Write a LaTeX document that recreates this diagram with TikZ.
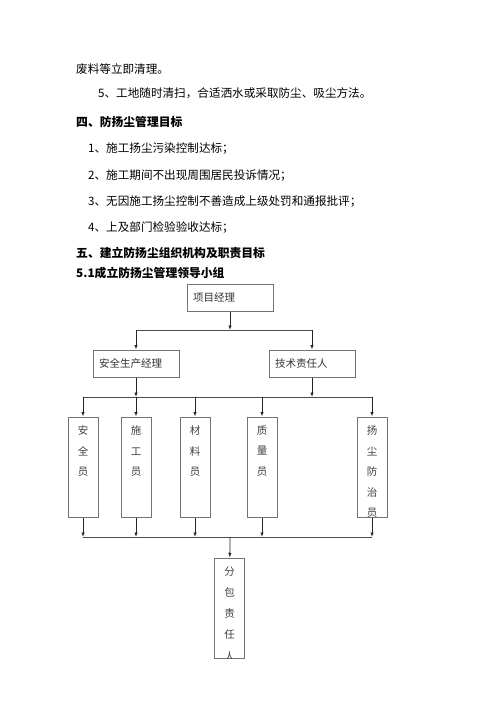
\documentclass[tikz,border=0pt]{standalone}
\usepackage{fontspec}
\newfontfamily\cjk{Noto Sans CJK SC}
\usetikzlibrary{arrows.meta,positioning}
\tikzset{
	para/.style={anchor=west, inner sep=0pt, font=\cjk\fontsize{11.6}{13}\selectfont},
	head/.style={para, font=\cjk\bfseries\fontsize{11.8}{13}\selectfont},
	hbox/.style={draw=black!55, line width=1pt, text width=74pt, inner xsep=6pt, inner ysep=0pt, minimum height=27pt, align=left, font=\cjk\fontsize{10.5}{13}\selectfont, text=black!80},
	vbox/.style={draw=black!55, line width=1pt, minimum width=30pt, minimum height=100pt, inner sep=0pt},
	vtext/.style={inner sep=0pt, align=center, font=\cjk\fontsize{10.5}{20.5}\selectfont, text=black!75},
	link/.style={line width=0.8pt, color=black!70},
	arr/.style={link, color=black!85, -{Latex[length=4.5pt,width=3.5pt]}}
}

\begin{document}
\begin{tikzpicture}[x=1pt, y=-1pt]
		%%%%% START %%%%%
		\useasboundingbox (0,0) rectangle (500,707);
		
		\node[para] (t1) at (76, 69) {废料等立即清理。};
		\node[para] (t2) at (98, 93) {5、工地随时清扫，合适洒水或采取防尘、吸尘方法。};
		\node[head] (h4) at (76, 122) {四、防扬尘管理目标};
		\node[para] (g1) at (88, 149) {1、施工扬尘污染控制达标；};
		\node[para] (g2) at (88, 176) {2、施工期间不出现周围居民投诉情况；};
		\node[para] (g3) at (88, 202) {3、无因施工扬尘控制不善造成上级处罚和通报批评；};
		\node[para] (g4) at (88, 228) {4、上及部门检验验收达标；};
		\node[head] (h5) at (76, 253) {五、建立防扬尘组织机构及职责目标};
		\node[head] (h51) at (76, 273) {5.1成立防扬尘管理领导小组};
		
		%% top two levels
		\node[hbox] (pm) at (230, 297.5) {项目经理};
		\node[hbox] (safety) at (136, 363.5) {安全生产经理};
		\node[hbox] (tech) at (312, 363.5) {技术责任人};
		
		\coordinate (j1) at (230, 330);
		\coordinate (j2) at (230, 397);
		\coordinate (j3) at (230, 537);
		
		\draw[arr] (pm) -- (j1);
		\draw[link] (safety |- j1) -- (tech |- j1);
		\draw[arr] (safety |- j1) -- (safety);
		\draw[arr] (tech |- j1) -- (tech);
		
		%% staff
		\node[vbox] (s1) at (83, 467) {};
		\node[vbox] (s2) at (136, 467) {};
		\node[vbox] (s3) at (195, 467) {};
		\node[vbox] (s4) at (262, 467) {};
		\node[vbox] (s5) at (372, 467) {};
		\node[vtext, below=9pt of s1.north] (l1) {安\\全\\员};
		\node[vtext, below=9pt of s2.north] (l2) {施\\工\\员};
		\node[vtext, below=9pt of s3.north] (l3) {材\\料\\员};
		\node[vtext, below=9pt of s4.north] (l4) {质\\量\\员};
		\begin{scope}
			\clip (s5.north west) rectangle (s5.south east);
			\node[vtext, below=9pt of s5.north] (l5) {扬\\尘\\防\\治\\员};
		\end{scope}
		
		\draw[arr] (safety) -- (safety |- j2);
		\draw[arr] (tech) -- (tech |- j2);
		\draw[link] (s1 |- j2) -- (s5 |- j2);
		\foreach \s in {s1,s2,s3,s4,s5}
			\draw[arr] (\s |- j2) -- (\s);
		
		%% subcontractor
		\node[vbox] (sub) at (229.5, 608) {};
		\begin{scope}
			\clip (sub.north west) rectangle (sub.south east);
			\node[vtext, font=\cjk\fontsize{10.5}{21.2}\selectfont, below=9pt of sub.north] (l6) {分\\包\\责\\任\\人};
		\end{scope}
		
		\foreach \s in {s1,s2,s3,s4,s5}
			\draw[arr] (\s) -- (\s |- j3);
		\draw[link] (s1 |- j3) -- (s5 |- j3);
		\draw[arr] (j3) -- (sub);
		
		%%%%% END %%%%%
\end{tikzpicture}
\end{document}
